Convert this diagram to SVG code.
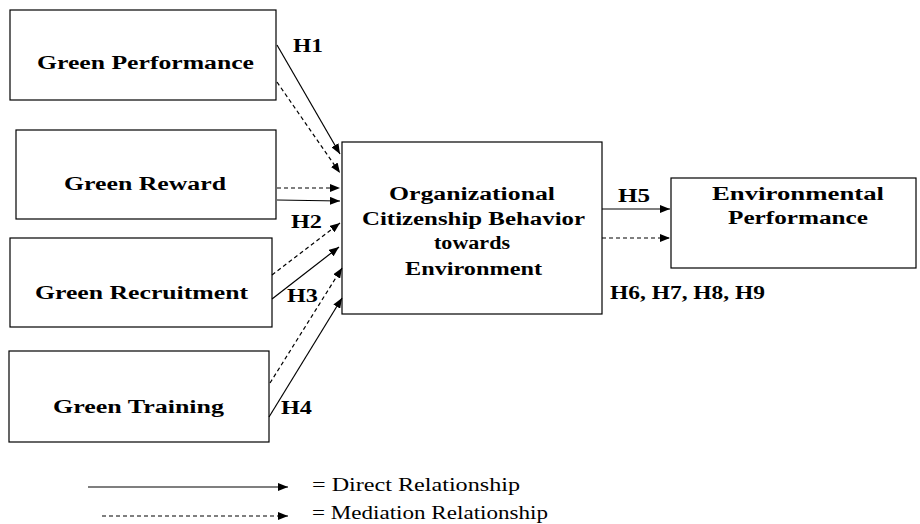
<svg xmlns="http://www.w3.org/2000/svg" width="920" height="524" viewBox="0 0 920 524">
<defs>
<marker id="ah" viewBox="0 0 10 8" refX="10" refY="4" markerWidth="10" markerHeight="8" markerUnits="userSpaceOnUse" orient="auto">
<path d="M0,0 L10,4 L0,8 Z" fill="#000"/>
</marker>
<style>
.box{fill:#fff;stroke:#000;stroke-width:1.2}
.t{font-family:"Liberation Serif","Times New Roman",serif;font-weight:bold;font-size:18px;fill:#000}
.h{font-family:"Liberation Serif","Times New Roman",serif;font-weight:bold;font-size:18px;fill:#000}
.l{font-family:"Liberation Serif","Times New Roman",serif;font-size:18px;fill:#000}
.s{stroke:#000;stroke-width:1.2;fill:none;marker-end:url(#ah)}
.d{stroke:#000;stroke-width:1.2;fill:none;stroke-dasharray:4,3;marker-end:url(#ah)}
</style>
</defs>
<rect width="920" height="524" fill="#fff"/>
<g id="green-performance">
<rect class="box" x="10" y="10" width="266" height="90"/>
<text class="t" x="37" y="69" textLength="217" lengthAdjust="spacingAndGlyphs">Green Performance</text>
</g>
<g id="green-reward">
<rect class="box" x="16" y="130" width="260" height="89"/>
<text class="t" x="64" y="190" textLength="162" lengthAdjust="spacingAndGlyphs">Green Reward</text>
</g>
<g id="green-recruitment">
<rect class="box" x="10" y="238" width="262" height="89"/>
<text class="t" x="35" y="299" textLength="213" lengthAdjust="spacingAndGlyphs">Green Recruitment</text>
</g>
<g id="green-training">
<rect class="box" x="9" y="351" width="260" height="91"/>
<text class="t" x="53" y="413" textLength="171" lengthAdjust="spacingAndGlyphs">Green Training</text>
</g>
<g id="ocbe">
<rect class="box" x="342" y="142" width="260" height="172"/>
<text class="t" x="389" y="200" textLength="166" lengthAdjust="spacingAndGlyphs">Organizational</text>
<text class="t" x="362" y="225" textLength="223" lengthAdjust="spacingAndGlyphs">Citizenship Behavior</text>
<text class="t" x="434" y="249" textLength="76" lengthAdjust="spacingAndGlyphs">towards</text>
<text class="t" x="405" y="275" textLength="137" lengthAdjust="spacingAndGlyphs">Environment</text>
</g>
<g id="environmental-performance">
<rect class="box" x="671" y="178" width="245" height="90"/>
<text class="t" x="712" y="200" textLength="172" lengthAdjust="spacingAndGlyphs">Environmental</text>
<text class="t" x="728" y="224" textLength="140" lengthAdjust="spacingAndGlyphs">Performance</text>
</g>
<g id="connectors">
<line class="s" x1="277" y1="45" x2="340" y2="154"/>
<line class="d" x1="277" y1="82" x2="340" y2="173"/>
<line class="d" x1="277" y1="188" x2="340" y2="188"/>
<line class="s" x1="277" y1="200" x2="340" y2="201"/>
<line class="d" x1="272" y1="275" x2="340" y2="223"/>
<line class="s" x1="272" y1="299" x2="339" y2="247"/>
<line class="d" x1="270" y1="383" x2="342" y2="268"/>
<line class="s" x1="269" y1="417" x2="342" y2="298"/>
<line class="s" x1="602" y1="209" x2="670" y2="209"/>
<line class="d" x1="602" y1="238" x2="670" y2="238"/>
</g>
<g id="labels">
<text class="h" x="293" y="52" textLength="30" lengthAdjust="spacingAndGlyphs">H1</text>
<text class="h" x="291" y="228" textLength="31" lengthAdjust="spacingAndGlyphs">H2</text>
<text class="h" x="287" y="302" textLength="31" lengthAdjust="spacingAndGlyphs">H3</text>
<text class="h" x="281" y="414" textLength="31" lengthAdjust="spacingAndGlyphs">H4</text>
<text class="h" x="618" y="202" textLength="32" lengthAdjust="spacingAndGlyphs">H5</text>
<text class="h" x="610" y="299" textLength="155" lengthAdjust="spacingAndGlyphs">H6, H7, H8, H9</text>
</g>
<g id="legend">
<line class="s" x1="88" y1="487" x2="288" y2="487"/>
<text class="l" x="312" y="491" textLength="208" lengthAdjust="spacingAndGlyphs">= Direct Relationship</text>
<line class="d" x1="102" y1="516" x2="288" y2="516"/>
<text class="l" x="312" y="519" textLength="236" lengthAdjust="spacingAndGlyphs">= Mediation Relationship</text>
</g>
</svg>
